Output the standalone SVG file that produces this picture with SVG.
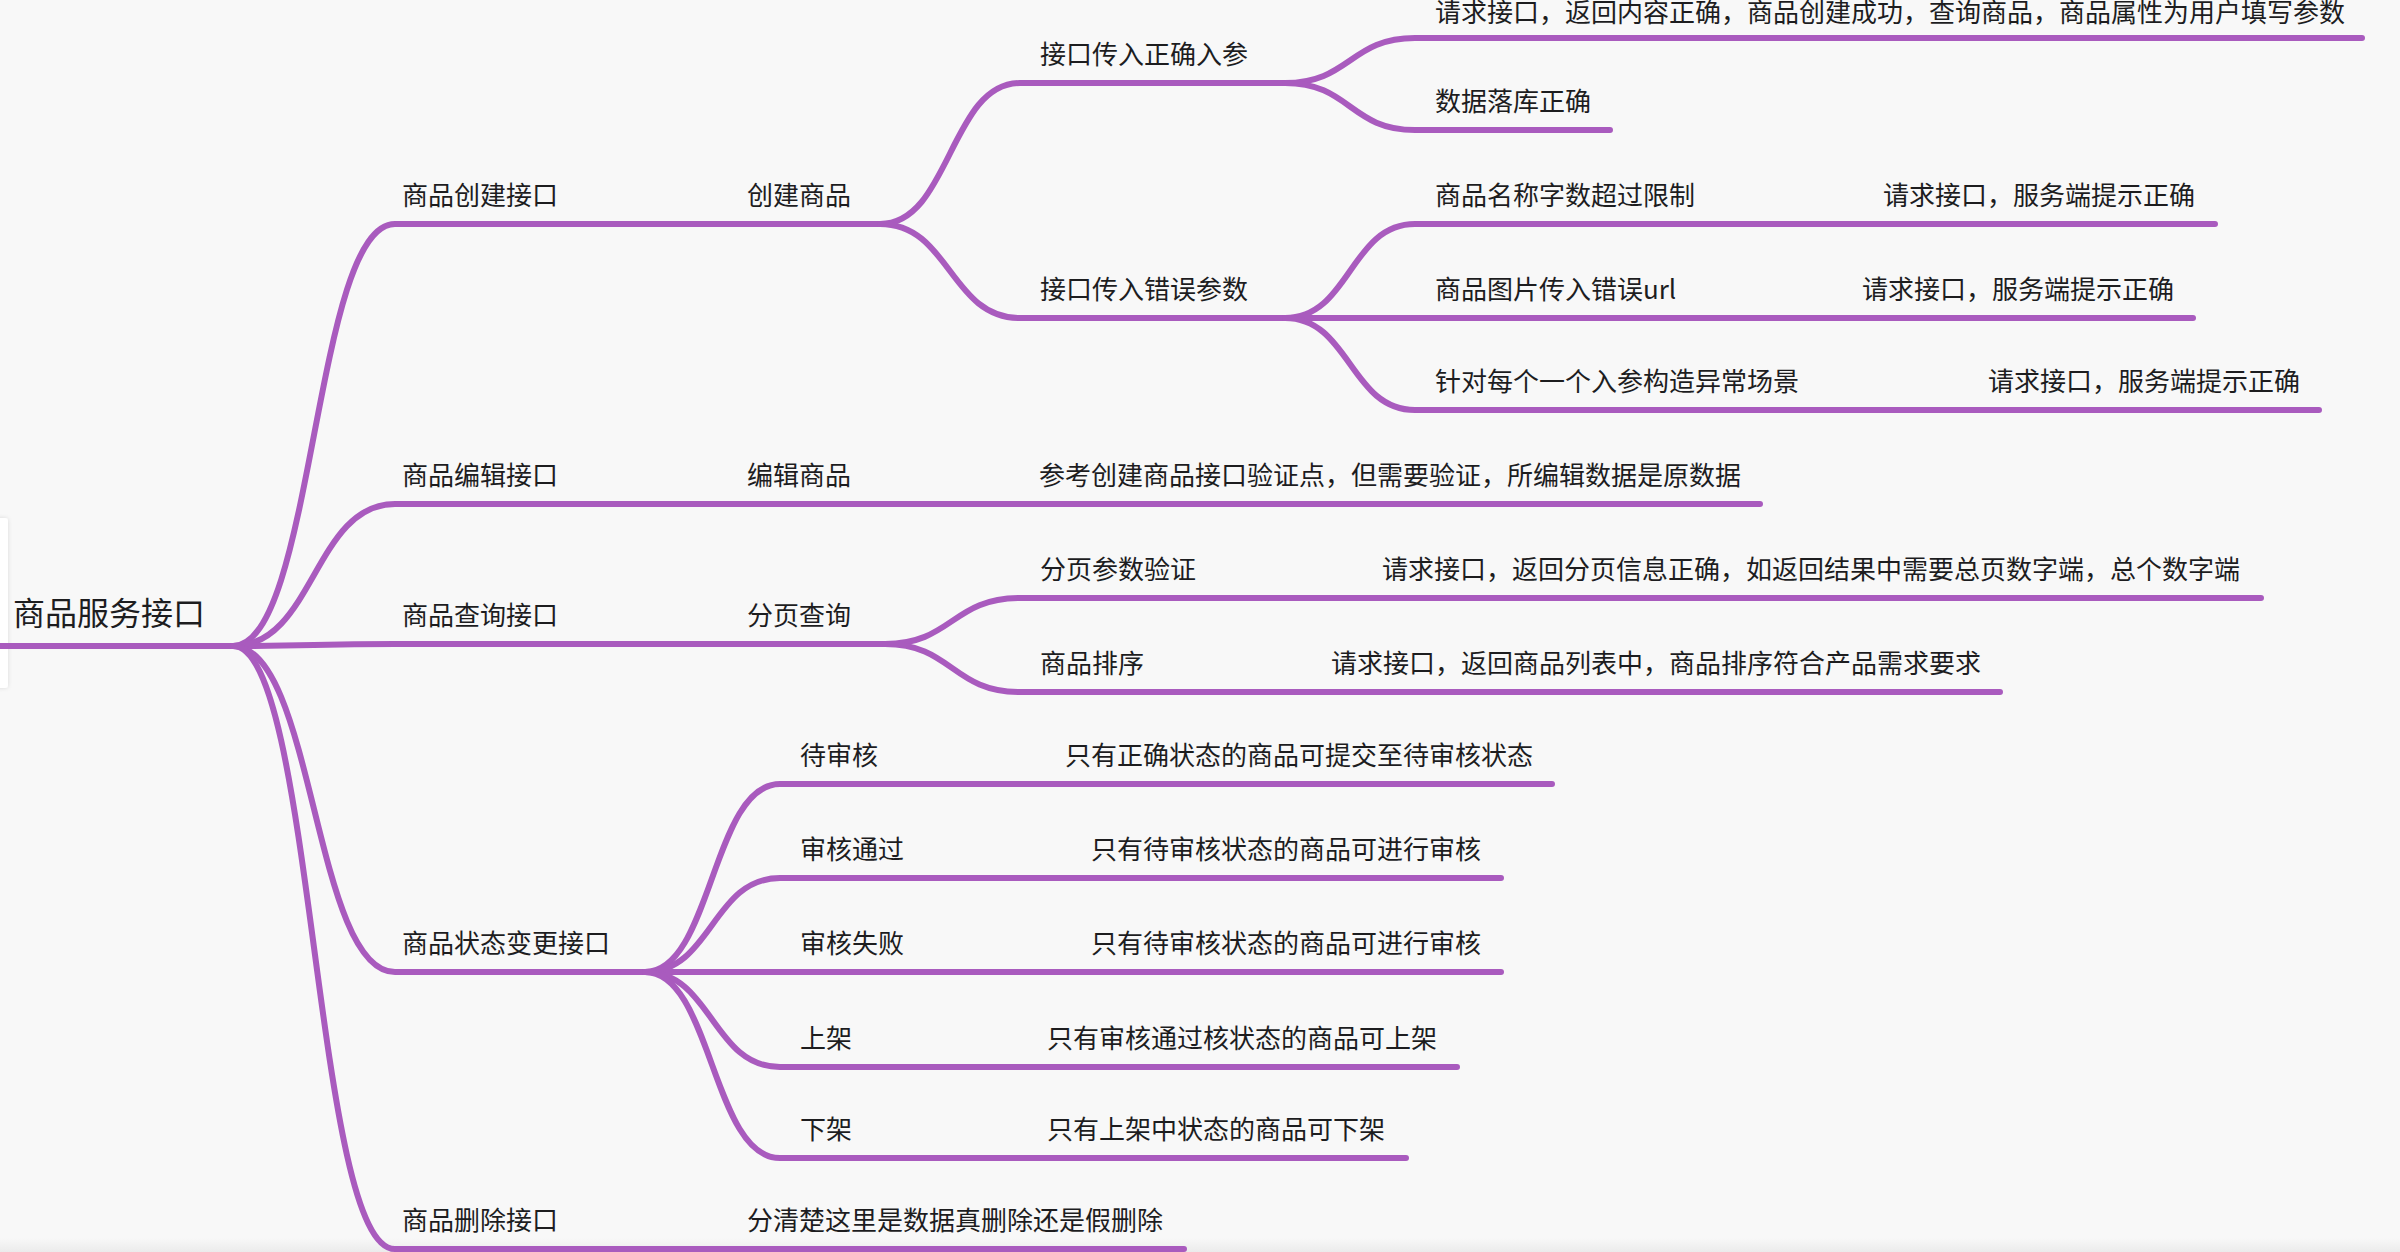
<svg xmlns="http://www.w3.org/2000/svg" width="2400" height="1252" viewBox="0 0 2400 1252">
<defs>
<style>
.bg{fill:#F8F8F8}
.ln{fill:none;stroke:#A95BBE;stroke-width:6;stroke-linecap:round;stroke-linejoin:round}
.t{font-family:"Noto Sans CJK SC","Noto Sans",sans-serif;font-size:26px;fill:#1D1D1F}
.root{font-size:32px}
</style>
<linearGradient id="bot" x1="0" y1="0" x2="0" y2="1">
<stop offset="0" stop-color="#F8F8F8"/>
<stop offset="1" stop-color="#EBEBEB"/>
</linearGradient>
<filter id="sh" x="-50%" y="-10%" width="200%" height="120%">
<feDropShadow dx="0" dy="0" stdDeviation="2" flood-color="#000" flood-opacity="0.12"/>
</filter>
</defs>
<rect class="bg" x="0" y="0" width="2400" height="1252"/>
<rect x="0" y="1238" width="2400" height="14" fill="url(#bot)"/>
<rect x="-12" y="518" width="20" height="170" rx="3" fill="#FFFFFF" filter="url(#sh)"/>

<g id="connectors">
<path class="ln" d="M0,646 L233,646"/>
<path class="ln" d="M233,646 C314,646 314,224 395,224 L880,224"/>
<path class="ln" d="M233,646 C314,646 314,504 395,504 L1760,504"/>
<path class="ln" d="M233,646 C314,646 314,644 395,644 L885,644"/>
<path class="ln" d="M233,646 C314,646 314,972 395,972 L645,972"/>
<path class="ln" d="M233,646 C314,646 314,1249 395,1249 L1184,1249"/>
<path class="ln" d="M880,224 C950,224 950,83 1020,83 L1285,83"/>
<path class="ln" d="M880,224 C950,224 950,318 1020,318 L1285,318"/>
<path class="ln" d="M1285,83 C1350,83 1350,38 1415,38 L2362,38"/>
<path class="ln" d="M1285,83 C1350,83 1350,130 1415,130 L1610,130"/>
<path class="ln" d="M1285,318 C1350,318 1350,224 1415,224 L2215,224"/>
<path class="ln" d="M1285,318 L2193,318"/>
<path class="ln" d="M1285,318 C1350,318 1350,410 1415,410 L2319,410"/>
<path class="ln" d="M885,644 C952,644 952,598 1020,598 L2261,598"/>
<path class="ln" d="M885,644 C952,644 952,692 1020,692 L2000,692"/>
<path class="ln" d="M645,972 C712,972 712,784 780,784 L1552,784"/>
<path class="ln" d="M645,972 C712,972 712,878 780,878 L1501,878"/>
<path class="ln" d="M645,972 L1501,972"/>
<path class="ln" d="M645,972 C712,972 712,1067 780,1067 L1457,1067"/>
<path class="ln" d="M645,972 C712,972 712,1158 780,1158 L1406,1158"/>
</g>

<g id="n-root"><text class="t root" x="13" y="625">商品服务接口</text></g>
<g id="n-create-api"><text class="t" x="402" y="205">商品创建接口</text></g>
<g id="n-edit-api"><text class="t" x="402" y="485">商品编辑接口</text></g>
<g id="n-query-api"><text class="t" x="402" y="625">商品查询接口</text></g>
<g id="n-status-api"><text class="t" x="402" y="953">商品状态变更接口</text></g>
<g id="n-delete-api"><text class="t" x="402" y="1230">商品删除接口</text></g>

<g id="n-create"><text class="t" x="747" y="205">创建商品</text></g>
<g id="n-edit"><text class="t" x="747" y="485">编辑商品</text></g>
<g id="n-page"><text class="t" x="747" y="625">分页查询</text></g>
<g id="n-delete"><text class="t" x="747" y="1230">分清楚这里是数据真删除还是假删除</text></g>

<g id="n-edit-ref"><text class="t" x="1039" y="485">参考创建商品接口验证点，但需要验证，所编辑数据是原数据</text></g>

<g id="n-correct"><text class="t" x="1040" y="64">接口传入正确入参</text></g>
<g id="n-wrong"><text class="t" x="1040" y="299">接口传入错误参数</text></g>
<g id="n-correct-1"><text class="t" x="1435" y="22">请求接口，返回内容正确，商品创建成功，查询商品，商品属性为用户填写参数</text></g>
<g id="n-correct-2"><text class="t" x="1435" y="111">数据落库正确</text></g>
<g id="n-wrong-1"><text class="t" x="1435" y="205">商品名称字数超过限制</text></g>
<g id="n-wrong-2"><text class="t" x="1435" y="299">商品图片传入错误url</text></g>
<g id="n-wrong-3"><text class="t" x="1435" y="391">针对每个一个入参构造异常场景</text></g>
<g id="n-wrong-1a"><text class="t" x="1883" y="205">请求接口，服务端提示正确</text></g>
<g id="n-wrong-2a"><text class="t" x="1862" y="299">请求接口，服务端提示正确</text></g>
<g id="n-wrong-3a"><text class="t" x="1988" y="391">请求接口，服务端提示正确</text></g>

<g id="n-page-param"><text class="t" x="1040" y="579">分页参数验证</text></g>
<g id="n-page-param-a"><text class="t" x="1382" y="579">请求接口，返回分页信息正确，如返回结果中需要总页数字端，总个数字端</text></g>
<g id="n-sort"><text class="t" x="1040" y="673">商品排序</text></g>
<g id="n-sort-a"><text class="t" x="1331" y="673">请求接口，返回商品列表中，商品排序符合产品需求要求</text></g>

<g id="n-pending"><text class="t" x="800" y="765">待审核</text></g>
<g id="n-pending-a"><text class="t" x="1065" y="765">只有正确状态的商品可提交至待审核状态</text></g>
<g id="n-pass"><text class="t" x="800" y="859">审核通过</text></g>
<g id="n-pass-a"><text class="t" x="1091" y="859">只有待审核状态的商品可进行审核</text></g>
<g id="n-fail"><text class="t" x="800" y="953">审核失败</text></g>
<g id="n-fail-a"><text class="t" x="1091" y="953">只有待审核状态的商品可进行审核</text></g>
<g id="n-on"><text class="t" x="800" y="1048">上架</text></g>
<g id="n-on-a"><text class="t" x="1047" y="1048">只有审核通过核状态的商品可上架</text></g>
<g id="n-off"><text class="t" x="800" y="1139">下架</text></g>
<g id="n-off-a"><text class="t" x="1047" y="1139">只有上架中状态的商品可下架</text></g>
</svg>
